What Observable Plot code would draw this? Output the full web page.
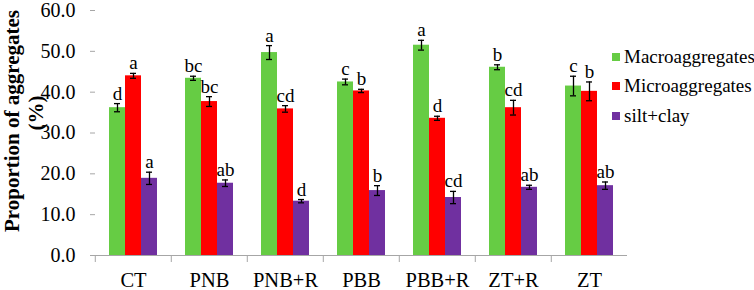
<!DOCTYPE html>
<html>
<head>
<meta charset="utf-8">
<script src="https://cdn.jsdelivr.net/npm/d3@7"></script>
<script src="https://cdn.jsdelivr.net/npm/@observablehq/plot@0.6"></script>
<style>
  body { margin: 0; background: #fff; }
  #wrap { position: relative; width: 754px; height: 290px; font-family: "Liberation Serif", "Times New Roman", serif; }
  #legend { position: absolute; left: 612px; top: 42px; font-size: 19px; color: #000; }
  #legend .row { display: flex; align-items: center; height: 29.5px; white-space: nowrap; }
  #legend .sw { width: 8px; height: 8px; margin-right: 4px; }
</style>
</head>
<body>
<div id="wrap"><div id="legend"></div></div>
<script>
const categories = ["CT", "PNB", "PNB+R", "PBB", "PBB+R", "ZT+R", "ZT"];
const series = ["Macroaggregates", "Microaggregates", "silt+clay"];
const colors = ["#66cc44", "#ff0000", "#7030a0"];

const macro        = [36.2, 43.4, 49.7, 42.5, 51.5, 46.1, 41.5];
const macroErr     = [1.0, 0.5, 1.7, 0.7, 1.2, 0.6, 2.4];
const macroLetters = ["d", "bc", "a", "c", "a", "b", "c"];

const micro        = [44.0, 37.7, 35.9, 40.3, 33.6, 36.2, 40.2];
const microErr     = [0.6, 1.2, 0.8, 0.4, 0.5, 1.8, 2.3];
const microLetters = ["a", "bc", "cd", "b", "d", "cd", "b"];

const silt         = [18.9, 17.7, 13.3, 15.9, 14.2, 16.7, 17.1];
const siltErr      = [1.5, 0.8, 0.4, 1.2, 1.5, 0.5, 0.9];
const siltLetters  = ["a", "ab", "d", "b", "cd", "ab", "ab"];

const yTicks = [0, 10, 20, 30, 40, 50, 60];
const yTitle = "Proportion of aggregates";
const yUnit = "(%)";

const values = [macro, micro, silt];
const errs = [macroErr, microErr, siltErr];
const letters = [macroLetters, microLetters, siltLetters];

const rows = categories.flatMap((c, i) => series.map((s, j) => ({
  cat: c, s, v: values[j][i], e: errs[j][i], l: letters[j][i]
})));

const W = 754, H = 290, mL = 93, mR = 126, mT = 10, mB = 35;
const bw = (W - mL - mR) / categories.length;
const axisGray = "#a6a6a6";

const chart = Plot.plot({
  width: W, height: H,
  marginLeft: mL, marginRight: mR, marginTop: mT, marginBottom: mB,
  style: { fontFamily: "Liberation Serif, Times New Roman, serif", fontSize: "19px", color: "#000", background: "#fff", overflow: "visible" },
  fx: { domain: categories, padding: 0, label: null },
  x: { domain: series, paddingInner: 0, paddingOuter: 0.8, axis: null },
  y: { domain: [0, 60], label: null },
  color: { domain: series, range: colors },
  marks: [
    Plot.barY(rows, { fx: "cat", x: "s", y: "v", fill: "s" }),
    Plot.ruleX(rows, { fx: "cat", x: "s", y1: d => d.v - d.e, y2: d => d.v + d.e, stroke: "#000", strokeWidth: 1.3 }),
    Plot.tickY(rows, { fx: "cat", x: "s", y: d => d.v - d.e, insetLeft: 5, insetRight: 5, stroke: "#000", strokeWidth: 1.3 }),
    Plot.tickY(rows, { fx: "cat", x: "s", y: d => d.v + d.e, insetLeft: 5, insetRight: 5, stroke: "#000", strokeWidth: 1.3 }),
    Plot.text(rows, { fx: "cat", x: "s", y: d => d.v + d.e, text: "l", lineAnchor: "bottom", dy: -4, fontSize: 19, fill: "#000" }),
    Plot.ruleY([0], { stroke: axisGray, strokeWidth: 1.2 }),
    Plot.axisY({ ticks: yTicks, tickFormat: d3.format(".1f"), tickSize: 5, tickPadding: 15, stroke: axisGray, line: true, label: null, fontSize: 20 }),
    Plot.axisFx({ anchor: "bottom", tickSize: 0, tickPadding: 17, label: null, fontSize: 20.5 }),
    Plot.axisFx({ anchor: "bottom", tickSize: 7, text: null, dx: -bw / 2, stroke: axisGray, label: null }),
    Plot.text([yTitle], { facet: "super", frameAnchor: "left", rotate: -90, dx: -91, dy: -12, lineAnchor: "top", textAnchor: "middle", fontSize: 21, fontWeight: "bold", fill: "#000" }),
    Plot.text([yUnit], { facet: "super", frameAnchor: "left", rotate: -90, dx: -67, dy: -20, lineAnchor: "top", textAnchor: "middle", fontSize: 21, fontWeight: "bold", fill: "#000" })
  ]
});

const wrap = document.getElementById("wrap");
wrap.insertBefore(chart, wrap.firstChild);

const legend = document.getElementById("legend");
series.forEach((s, i) => {
  const row = document.createElement("div");
  row.className = "row";
  const sw = document.createElement("div");
  sw.className = "sw";
  sw.style.background = colors[i];
  const t = document.createElement("span");
  t.textContent = s;
  row.appendChild(sw);
  row.appendChild(t);
  legend.appendChild(row);
});
</script>
</body>
</html>
